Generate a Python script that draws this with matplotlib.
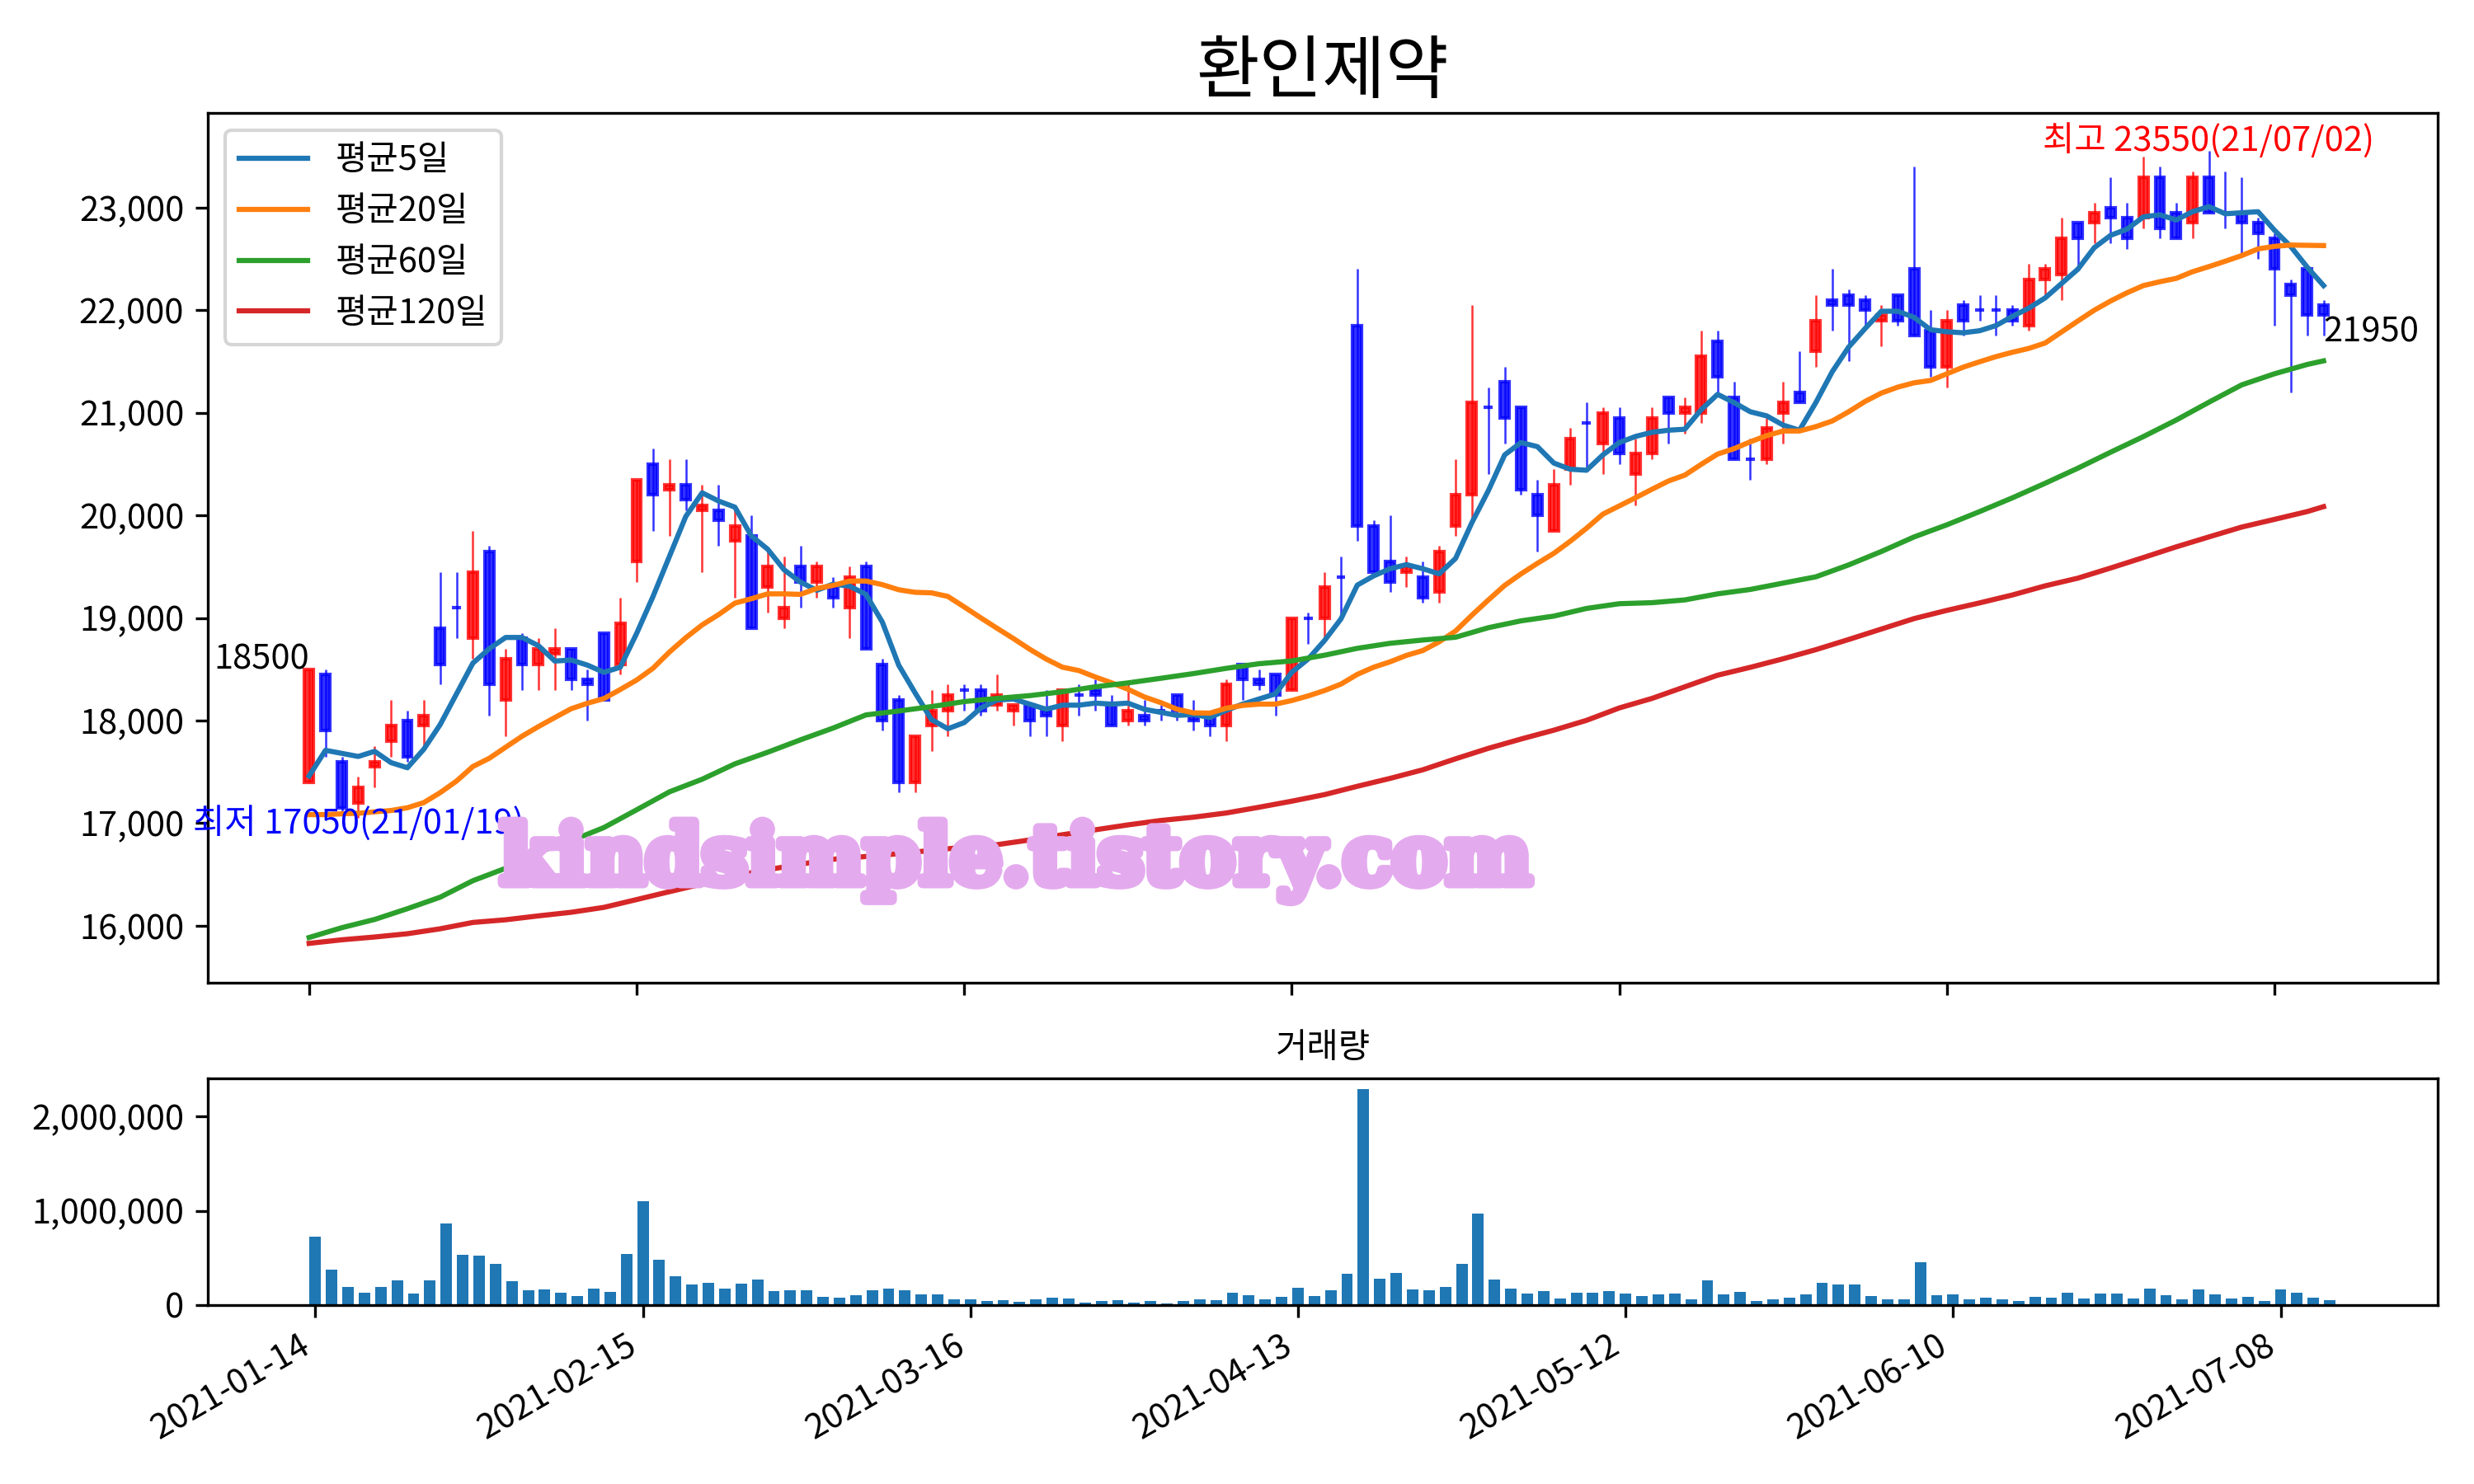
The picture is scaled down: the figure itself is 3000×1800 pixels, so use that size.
import numpy as np
import pandas as pd
import matplotlib
matplotlib.use("Agg")
import matplotlib.pyplot as plt
import matplotlib.patheffects as pe
from matplotlib.ticker import FuncFormatter

plt.rcParams['font.family'] = ['Noto Sans CJK KR', 'DejaVu Sans']
plt.rcParams['axes.unicode_minus'] = False

# trading days (KRX calendar, holidays removed)
holidays = ['2021-02-11', '2021-02-12', '2021-03-01', '2021-05-05', '2021-05-19']
dates = pd.bdate_range('2021-01-14', '2021-07-13', freq='C', holidays=holidays)

opens = [17400, 18450, 17600, 17200, 17550, 17800, 18000, 17950, 18900, 19100,
         18800, 19650, 18200, 18800, 18550, 18650, 18700, 18400, 18850, 18550,
         19550, 20500, 20250, 20300, 20050, 20050, 19750, 19800, 19300, 19000,
         19500, 19350, 19300, 19100, 19500, 18550, 18200, 17400, 17950, 18100,
         18300, 18300, 18150, 18100, 18150, 18100, 17950, 18250, 18300, 18150,
         18000, 18050, 18100, 18250, 18050, 18050, 17950, 18550, 18400, 18450,
         18300, 19000, 19000, 19400, 21850, 19900, 19550, 19450, 19400, 19250,
         19900, 20200, 21050, 21300, 21050, 20200, 19850, 20450, 20900, 20700,
         20950, 20400, 20600, 21150, 21000, 21000, 21700, 21150, 20550, 20550,
         21000, 21200, 21600, 22100, 22150, 22100, 21900, 22150, 22400, 21800,
         21450, 22050, 22000, 22000, 22000, 21850, 22300, 22350, 22850, 22850,
         23000, 22900, 22900, 23300, 22950, 22850, 23300, 22950, 22950, 22850,
         22700, 22250, 22400, 22050]
highs = [18500, 18500, 17650, 17450, 17750, 18200, 18100, 18200, 19450, 19450,
         19850, 19700, 18700, 18850, 18800, 18900, 18700, 18500, 18850, 19200,
         20350, 20650, 20550, 20550, 20300, 20300, 20050, 20000, 19650, 19600,
         19700, 19550, 19400, 19500, 19550, 18600, 18250, 17850, 18300, 18350,
         18350, 18350, 18450, 18150, 18150, 18300, 18300, 18350, 18400, 18250,
         18350, 18200, 18150, 18250, 18200, 18100, 18400, 18550, 18500, 18450,
         19000, 19050, 19450, 19600, 22400, 19950, 20000, 19600, 19550, 19700,
         20550, 22050, 21250, 21450, 21050, 20350, 20450, 20850, 21100, 21050,
         21050, 20750, 21050, 21150, 21150, 21800, 21800, 21300, 20750, 20950,
         21300, 21600, 22150, 22400, 22200, 22150, 22050, 22150, 23400, 22000,
         22000, 22100, 22150, 22150, 22050, 22450, 22450, 22900, 22850, 23050,
         23300, 23050, 23500, 23400, 23050, 23350, 23550, 23350, 23300, 22900,
         22750, 22300, 22400, 22100]
lows = [17400, 17650, 17100, 17050, 17350, 17650, 17600, 17750, 18350, 18800,
        18600, 18050, 17850, 18300, 18300, 18300, 18300, 18000, 18200, 18450,
        19350, 19850, 19800, 20050, 19450, 19700, 19200, 18900, 19050, 18900,
        19100, 19200, 19100, 18800, 18700, 17900, 17300, 17300, 17700, 17850,
        18100, 18050, 18100, 17950, 17850, 17850, 17800, 18050, 18100, 17950,
        17950, 17950, 18000, 18000, 17900, 17850, 17800, 18200, 18300, 18050,
        18300, 18750, 18800, 19000, 19750, 19450, 19250, 19300, 19150, 19150,
        19800, 19950, 20400, 20700, 20200, 19650, 19850, 20300, 20450, 20400,
        20500, 20100, 20550, 20700, 20800, 20900, 21200, 20550, 20350, 20500,
        20700, 21100, 21450, 21800, 21500, 21850, 21650, 21850, 21750, 21350,
        21250, 21750, 21900, 21750, 21850, 21800, 22150, 22100, 22400, 22650,
        22650, 22600, 22800, 22700, 22700, 22700, 22950, 22800, 22550, 22500,
        21850, 21200, 21750, 21750]
closes = [18500, 17900, 17150, 17350, 17600, 17950, 17650, 18050, 18550, 19100,
          19450, 18350, 18600, 18550, 18700, 18700, 18400, 18350, 18200, 18950,
          20350, 20200, 20300, 20150, 20100, 19950, 19900, 18900, 19500, 19100,
          19350, 19500, 19200, 19400, 18700, 18000, 17400, 17850, 18100, 18250,
          18300, 18100, 18250, 18150, 18000, 18050, 18300, 18250, 18250, 17950,
          18100, 18000, 18100, 18100, 18000, 17950, 18350, 18400, 18350, 18250,
          19000, 19000, 19300, 19400, 19900, 19450, 19350, 19500, 19200, 19650,
          20200, 21100, 21050, 20950, 20250, 20000, 20300, 20750, 20900, 21000,
          20600, 20600, 20950, 21000, 21050, 21550, 21350, 20550, 20550, 20850,
          21100, 21100, 21900, 22050, 22050, 22000, 21950, 21900, 21750, 21450,
          21900, 21900, 22000, 22000, 21900, 22300, 22400, 22700, 22700, 22950,
          22900, 22700, 23300, 22800, 22700, 23300, 22950, 22950, 22850, 22750,
          22400, 22150, 21950, 21950]
volumes = [724, 378, 192, 130, 192, 263, 121, 263, 866, 529,
           520, 440, 254, 157, 165, 130, 95, 174, 139, 538,
           1105, 476, 307, 219, 236, 174, 227, 272, 148, 157,
           157, 86, 77, 103, 157, 174, 157, 112, 112, 59,
           59, 41, 50, 32, 59, 77, 68, 24, 41, 50,
           24, 41, 15, 41, 59, 50, 130, 103, 59, 86,
           183, 95, 157, 334, 2290, 281, 343, 165, 157, 192,
           440, 972, 272, 174, 121, 148, 68, 130, 130, 148,
           121, 95, 112, 121, 59, 263, 112, 139, 41, 59,
           77, 112, 236, 219, 219, 95, 59, 59, 449, 103,
           112, 59, 77, 59, 41, 86, 77, 130, 68, 121,
           121, 68, 174, 103, 59, 165, 112, 68, 86, 41,
           165, 130, 77, 50]
volumes = [v * 1000 for v in volumes]

# moving averages that reach back before the shown window
ma5_head = [17460, 17710, 17680, 17650]
ma20_head = [17083, 17083, 17091, 17096, 17110, 17123, 17150, 17200, 17297, 17410,
             17552, 17632, 17740, 17847, 17941, 18029, 18115, 18169, 18214]
ma_long_idx = list(range(0, 123, 2)) + [123]
ma60 = [15885, 15981, 16061, 16166, 16278, 16439, 16560, 16720, 16828, 16957,
        17130, 17305, 17428, 17578, 17691, 17812, 17927, 18055, 18093, 18136,
        18185, 18216, 18243, 18281, 18329, 18367, 18412, 18458, 18509, 18554,
        18581, 18637, 18704, 18753, 18785, 18812, 18905, 18972, 19018, 19093,
        19139, 19149, 19176, 19235, 19278, 19340, 19401, 19517, 19648, 19790,
        19908, 20037, 20171, 20313, 20460, 20616, 20768, 20929, 21103, 21272,
        21380, 21471, 21506]
ma120 = [15828, 15863, 15890, 15922, 15970, 16032, 16058, 16096, 16131, 16179,
         16255, 16332, 16407, 16487, 16546, 16600, 16648, 16675, 16702, 16734,
         16766, 16790, 16836, 16887, 16935, 16983, 17026, 17058, 17099, 17155,
         17214, 17278, 17359, 17436, 17520, 17627, 17729, 17820, 17906, 18002,
         18123, 18216, 18329, 18442, 18519, 18602, 18691, 18790, 18892, 18994,
         19074, 19147, 19224, 19313, 19388, 19487, 19589, 19693, 19790, 19886,
         19961, 20037, 20085]

tick_idx = [0, 20, 40, 60, 80, 100, 120]

df = pd.DataFrame({'open': opens, 'high': highs, 'low': lows, 'close': closes,
                   'volume': volumes}, index=dates)
x = np.arange(len(df))
ma5 = df['close'].rolling(5).mean().to_numpy()
ma5[:4] = ma5_head
ma20 = df['close'].rolling(20).mean().to_numpy()
ma20[:19] = ma20_head

fig = plt.figure(figsize=(10, 6), dpi=300)
ax = fig.add_axes([0.0841, 0.3379, 0.9011, 0.5860])
ax2 = fig.add_axes([0.0841, 0.1207, 0.9011, 0.1525])

# candles
up = df['close'] > df['open']
colors = np.where(up, 'r', 'b')
body_lo = np.minimum(df['open'], df['close'])
body_h = (df['close'] - df['open']).abs()
ax.vlines(x, df['low'], df['high'], colors=colors, linewidth=0.6, alpha=0.8, zorder=1)
ax.bar(x, body_h, 0.55, bottom=body_lo, color=colors, edgecolor=colors,
       linewidth=1.0, alpha=0.8, zorder=1)

ax.plot(x, ma5, label='평균5일', zorder=3)
ax.plot(x, ma20, label='평균20일', zorder=3)
ax.plot(ma_long_idx, ma60, label='평균60일', zorder=3)
ax.plot(ma_long_idx, ma120, label='평균120일', zorder=3)
ax.legend(loc='upper left')

# annotations
imax = int(np.argmax(highs))
imin = int(np.argmin(lows))
ax.text(imax, highs[imax], f"최고 {highs[imax]}({dates[imax]:%y/%m/%d})",
        color='r', ha='center', va='baseline')
ax.annotate(f"최저 {lows[imin]}({dates[imin]:%y/%m/%d})", (imin, lows[imin]),
            xytext=(0, -1.5), textcoords='offset points',
            color='b', ha='center', va='center')
ax.text(0, closes[0], f"{closes[0]}", ha='right', va='baseline')
ax.text(x[-1], closes[-1], f"{closes[-1]}", ha='left', va='top')

ax.text(0.3623, 0.1143, 'kindsimple.tistory.com', transform=ax.transAxes,
        fontsize=23.5, color='#e4aaee', fontweight='bold', family='DejaVu Serif',
        ha='center', va='baseline', zorder=6,
        path_effects=[pe.withStroke(linewidth=3, foreground='#e4aaee')])

ax.set_title('환인제약', fontsize=20)
ax.set_xlim(-6.17, 129.95)
ax.set_ylim(15446, 23923)
ax.set_xticks(tick_idx)
ax.tick_params(axis='x', labelbottom=False)
ax.yaxis.set_major_formatter(FuncFormatter(lambda v, p: f"{v:,.0f}"))

# volume
ax2.bar(x, df['volume'], 0.7, color='tab:blue')
ax2.set_title('거래량', fontsize=10)
ax2.set_xlim(-6.55, 129.57)
ax2.set_xticks(tick_idx)
ax2.set_xticklabels([f"{dates[i]:%Y-%m-%d}" for i in tick_idx], rotation=30, ha='right')
ax2.yaxis.set_major_formatter(FuncFormatter(lambda v, p: f"{v:,.0f}"))

fig.savefig('out.png', dpi=300)
